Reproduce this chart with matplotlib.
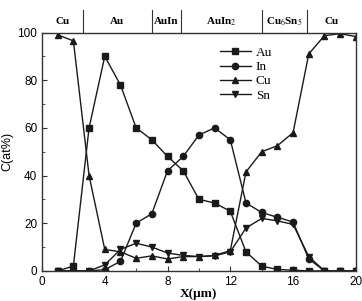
import matplotlib
matplotlib.use("Agg")
import matplotlib.pyplot as plt
from matplotlib.ticker import MultipleLocator

# profilo di composizione lungo X (um)
x = list(range(1, 21))
au = [0, 2, 60, 90, 78, 60, 55, 48, 42, 30, 28.5, 25, 8, 2, 0.6, 0.3, 0, 0, 0, 0]
inn = [0, 0, 0, 0.5, 4, 20, 24, 42, 48, 57, 60, 55, 28.5, 24.5, 22.5, 20.5, 5, 0, 0, 0]
cu = [99, 96.5, 40, 9, 8, 5.3, 6.3, 5, 6, 6, 6.5, 8.5, 41.5, 50, 52.5, 58, 91, 98.7, 99.5, 98.3]
sn = [0, 0, 0, 2.5, 9, 11.6, 10, 7.5, 6.5, 6, 6.3, 8, 18, 22, 21, 19.5, 6, 0, 0, 0]

phase_labels = ["Cu", "Au", "AuIn", "AuIn$_2$", "Cu$_6$Sn$_5$", "Cu"]
phase_bounds = [2.6, 7.0, 8.85, 14.0, 16.9]

plt.rcParams["font.family"] = ["Liberation Sans", "DejaVu Sans"]
plt.rcParams["mathtext.fontset"] = "stix"
serif = ["Liberation Serif", "DejaVu Serif"]

fig = plt.figure(figsize=(3.62, 3.01), dpi=100)
ax = fig.add_axes([0.116, 0.1, 0.867, 0.792])

kw = dict(color="#1a1a1a", lw=1.0, ms=4.5)
ax.plot(x, au, marker="s", label="Au", **kw)
ax.plot(x, inn, marker="o", label="In", **kw)
ax.plot(x, cu, marker="^", label="Cu", **kw)
ax.plot(x, sn, marker="v", label="Sn", **kw)

ax.set_xlim(0, 20)
ax.set_ylim(0, 100)
ax.xaxis.set_major_locator(MultipleLocator(4))
ax.xaxis.set_minor_locator(MultipleLocator(2))
ax.yaxis.set_major_locator(MultipleLocator(20))
ax.yaxis.set_minor_locator(MultipleLocator(10))
ax.tick_params(which="both", direction="in", labelsize=8.5, color="#333333")
ax.tick_params(which="major", length=3.5)
ax.tick_params(which="minor", length=2)
for s in ax.spines.values():
    s.set_linewidth(1.0)
    s.set_color("#333333")

ax.set_xlabel("X(μm)", fontsize=9.5, family=serif, fontweight="bold", labelpad=0.5)
ax.set_ylabel("C(at%)", fontsize=9, labelpad=3)

# bande di fase sopra il grafico
edges = [0] + phase_bounds + [20]
for b in phase_bounds:
    ax.plot([b, b], [100, 109.5], color="#333333", lw=0.8, clip_on=False)
for lab, a, b in zip(phase_labels, edges[:-1], edges[1:]):
    ax.text((a + b) / 2, 104.5, lab, ha="center", va="center", fontsize=8,
            family=serif, fontweight="bold")

leg = ax.legend(loc="upper left", bbox_to_anchor=(0.53, 0.99), frameon=False,
                prop={"family": serif, "size": 9.5}, handlelength=2.3,
                labelspacing=0.15, handletextpad=0.4)

fig.savefig("out.png", dpi=100)
plt.close()
